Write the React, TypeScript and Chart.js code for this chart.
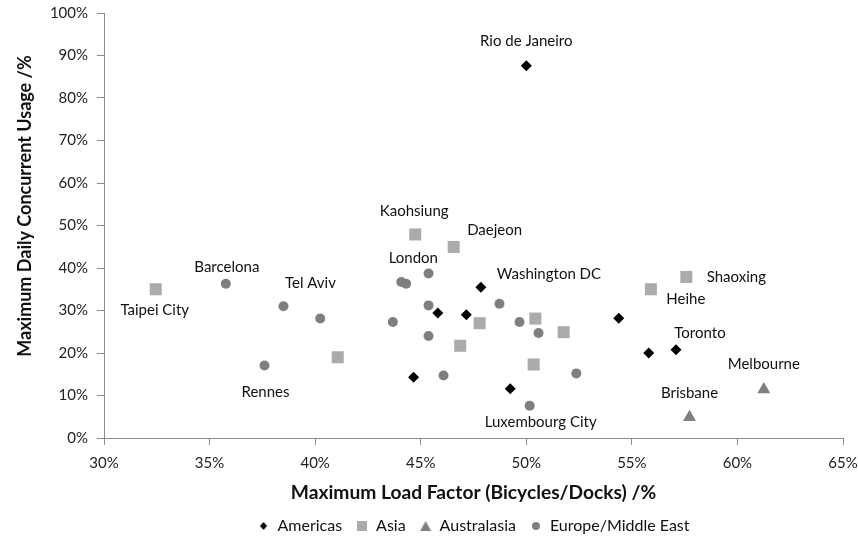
import { useEffect, useRef } from "react";
import { Chart, registerables } from "chart.js";

Chart.register(...registerables);

// ---- Data (percent values) ----
const americasX = [50.0, 47.85, 47.16, 45.81, 44.66, 49.24, 54.38, 55.8, 57.09];
const americasY = [87.6, 35.5, 29.0, 29.4, 14.3, 11.6, 28.2, 20.0, 20.75];
const americasNames = ["Rio de Janeiro", "Washington DC", "", "", "", "", "", "", "Toronto"];

const asiaX = [32.45, 44.74, 46.56, 41.07, 46.87, 47.79, 50.43, 51.77, 50.35, 55.9, 57.58];
const asiaY = [35.0, 47.9, 44.95, 19.0, 21.7, 27.0, 28.1, 24.9, 17.3, 35.0, 37.9];
const asiaNames = ["Taipei City", "Kaohsiung", "Daejeon", "", "", "", "", "", "", "Heihe", "Shaoxing"];

const australasiaX = [57.73, 61.25];
const australasiaY = [4.9, 11.4];
const australasiaNames = ["Brisbane", "Melbourne"];

const europeX = [35.77, 38.5, 40.24, 37.6, 44.08, 44.31, 45.37, 43.68, 45.37, 45.37, 46.08, 48.73, 49.68, 50.58, 52.37, 50.16];
const europeY = [36.3, 31.0, 28.1, 17.05, 36.7, 36.3, 38.7, 27.3, 31.2, 24.0, 14.7, 31.6, 27.3, 24.7, 15.2, 7.6];
const europeNames = ["Barcelona", "Tel Aviv", "", "Rennes", "London", "", "", "", "", "", "", "", "", "", "", "Luxembourg City"];

const seriesLabels = ["Americas", "Asia", "Australasia", "Europe/Middle East"];
const xTicks = [30, 35, 40, 45, 50, 55, 60, 65];
const yTicks = [0, 10, 20, 30, 40, 50, 60, 70, 80, 90, 100];
const xTitle = "Maximum Load Factor (Bicycles/Docks) /%";
const yTitle = "Maximum Daily Concurrent Usage /%";

// label placement relative to its point (pixels)
const labelOffsets: Record<string, [number, number]> = {
  "Rio de Janeiro": [0, -25],
  "Washington DC": [68, -13],
  "Toronto": [24, -17],
  "Taipei City": [-1, 21],
  "Kaohsiung": [-1, -23],
  "Daejeon": [41, -17],
  "Heihe": [35, 10],
  "Shaoxing": [50, 0],
  "Brisbane": [0, -24],
  "Melbourne": [0, -25],
  "Barcelona": [1, -17],
  "Tel Aviv": [27, -23],
  "Rennes": [1, 27],
  "London": [12, -24],
  "Luxembourg City": [11, 16],
};

const allNames = [americasNames, asiaNames, australasiaNames, europeNames];
const colors = ["#000000", "#ababab", "#808080", "#7f7f7f"];
const styles = ["rectRot", "rect", "triangle", "circle"];

const zip = (xs: number[], ys: number[]) => xs.map((x, i) => ({ x, y: ys[i] }));

const FONT = "Lato, 'Open Sans', sans-serif";

function legendMarker(style: string, color: string): HTMLCanvasElement {
  const c = document.createElement("canvas");
  c.width = 12;
  c.height = 12;
  const g = c.getContext("2d")!;
  g.fillStyle = color;
  g.beginPath();
  if (style === "rectRot") {
    g.moveTo(6, 2);
    g.lineTo(9.5, 6);
    g.lineTo(6, 10);
    g.lineTo(2.5, 6);
    g.closePath();
  } else if (style === "rect") {
    g.rect(1, 1, 10, 10);
  } else if (style === "triangle") {
    g.moveTo(6, 1);
    g.lineTo(11.5, 11);
    g.lineTo(0.5, 11);
    g.closePath();
  } else {
    g.arc(6, 6, 4, 0, Math.PI * 2);
  }
  g.fill();
  return c;
}

const cityLabels = {
  id: "cityLabels",
  afterDatasetsDraw(chart: any) {
    const ctx = chart.ctx;
    ctx.save();
    ctx.font = `15px ${FONT}`;
    ctx.fillStyle = "#111";
    ctx.textAlign = "center";
    ctx.textBaseline = "middle";
    chart.data.datasets.forEach((_ds: any, di: number) => {
      const names = allNames[di];
      const meta = chart.getDatasetMeta(di);
      meta.data.forEach((el: any, i: number) => {
        const n = names[i];
        if (!n) return;
        const [dx, dy] = labelOffsets[n] || [0, -18];
        ctx.fillText(n, el.x + dx, el.y + dy);
      });
    });
    // y axis title
    ctx.translate(25, 206);
    ctx.rotate(-Math.PI / 2);
    ctx.font = `bold 18px ${FONT}`;
    ctx.fillText(yTitle, 0, 0);
    ctx.restore();
  },
};

export default function App() {
  const ref = useRef<HTMLCanvasElement | null>(null);

  useEffect(() => {
    if (!ref.current) return;
    const markers = styles.map((s, i) => legendMarker(s, colors[i]));
    const chart = new Chart(ref.current, {
      type: "scatter",
      data: {
        datasets: [
          {
            label: seriesLabels[0],
            data: zip(americasX, americasY),
            pointStyle: "rectRot",
            pointRadius: 5.5,
            backgroundColor: colors[0],
            borderColor: colors[0],
            borderWidth: 0,
          },
          {
            label: seriesLabels[1],
            data: zip(asiaX, asiaY),
            pointStyle: "rect",
            pointRadius: 8.5,
            backgroundColor: colors[1],
            borderColor: colors[1],
            borderWidth: 0,
          },
          {
            label: seriesLabels[2],
            data: zip(australasiaX, australasiaY),
            pointStyle: "triangle",
            pointRadius: 7.5,
            backgroundColor: colors[2],
            borderColor: colors[2],
            borderWidth: 0,
          },
          {
            label: seriesLabels[3],
            data: zip(europeX, europeY),
            pointStyle: "circle",
            pointRadius: 5,
            backgroundColor: colors[3],
            borderColor: colors[3],
            borderWidth: 0,
          },
        ],
      },
      options: {
        animation: false,
        responsive: false,
        maintainAspectRatio: false,
        layout: { padding: { left: 0, right: 15, top: 13, bottom: -8 } },
        plugins: {
          tooltip: { enabled: false },
          legend: {
            position: "bottom",
            fullSize: false,
            labels: {
              usePointStyle: true,
              boxWidth: 12,
              boxHeight: 12,
              padding: 14,
              color: "#111",
              font: { family: FONT, size: 16 },
              generateLabels: (ch: any) =>
                ch.data.datasets.map((ds: any, i: number) => ({
                  text: ds.label,
                  fillStyle: colors[i],
                  strokeStyle: colors[i],
                  lineWidth: 0,
                  pointStyle: markers[i],
                  hidden: false,
                  datasetIndex: i,
                  fontColor: "#111",
                })),
            },
          },
        },
        scales: {
          x: {
            type: "linear",
            min: 30,
            max: 65,
            afterBuildTicks: (s: any) => {
              s.ticks = xTicks.map((v) => ({ value: v }));
            },
            afterFit: (s: any) => {
              s.height = 66;
              s.paddingLeft = 0;
              s.paddingRight = 0;
            },
            grid: { drawOnChartArea: false, drawTicks: true, tickLength: 7, color: "#8c8c8c" },
            border: { color: "#8c8c8c", width: 1 },
            ticks: {
              padding: 9,
              color: "#222",
              font: { family: FONT, size: 15 },
              callback: (v: any) => v + "%",
            },
            title: {
              display: true,
              text: xTitle,
              color: "#111",
              font: { family: FONT, size: 19.2, weight: "bold" },
              padding: { top: 0, bottom: 0 },
            },
          },
          y: {
            type: "linear",
            min: 0,
            max: 100,
            afterBuildTicks: (s: any) => {
              s.ticks = yTicks.map((v) => ({ value: v }));
            },
            afterFit: (s: any) => {
              s.width = 104;
              s.paddingTop = 0;
              s.paddingBottom = 0;
            },
            grid: { drawOnChartArea: false, drawTicks: true, tickLength: 7, color: "#8c8c8c" },
            border: { color: "#8c8c8c", width: 1 },
            ticks: {
              padding: 9,
              color: "#222",
              font: { family: FONT, size: 15 },
              callback: (v: any) => v + "%",
            },
            title: { display: false },
          },
        },
      },
      plugins: [cityLabels],
    });
    return () => chart.destroy();
  }, []);

  return (
    <div style={{ position: "fixed", left: 0, top: 0, width: 858, height: 536, background: "#fff" }}>
      <canvas ref={ref} width={858} height={536} style={{ width: 858, height: 536, display: "block" }} />
    </div>
  );
}
